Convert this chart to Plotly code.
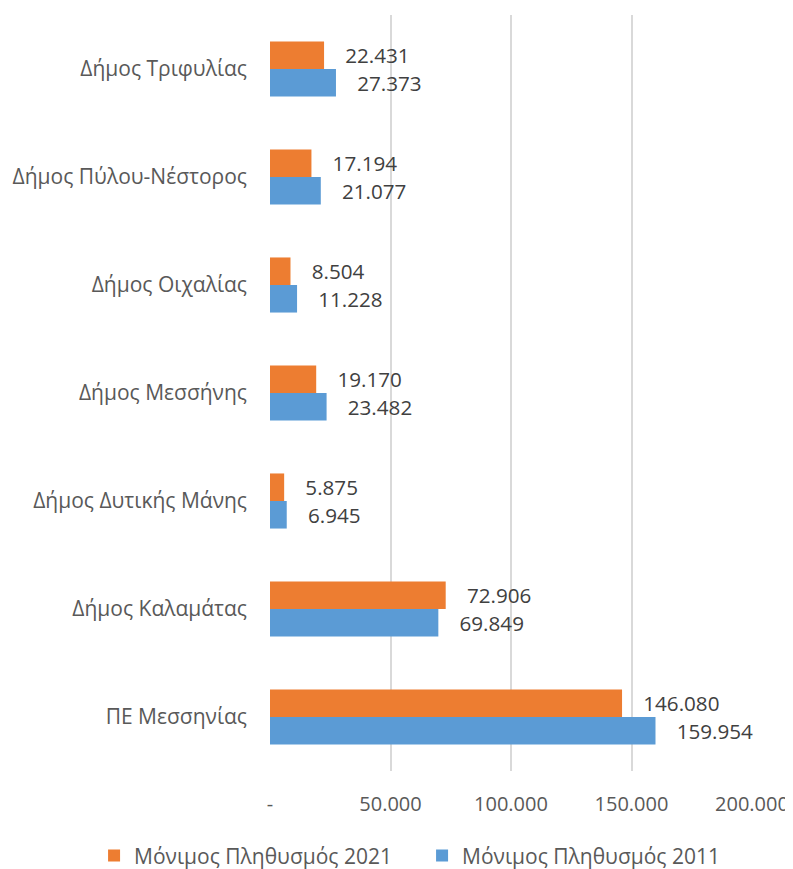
import plotly.graph_objects as go

# categories listed top to bottom as they appear in the chart
categories = [
    "Δήμος Τριφυλίας",
    "Δήμος Πύλου-Νέστορος",
    "Δήμος Οιχαλίας",
    "Δήμος Μεσσήνης",
    "Δήμος Δυτικής Μάνης",
    "Δήμος Καλαμάτας",
    "ΠΕ Μεσσηνίας",
]
pop_2021 = [22431, 17194, 8504, 19170, 5875, 72906, 146080]
pop_2011 = [27373, 21077, 11228, 23482, 6945, 69849, 159954]

tick_vals = [0, 50000, 100000, 150000, 200000]
tick_text = ["-", "50.000", "100.000", "150.000", "200.000"]

FONT = "Open Sans, sans-serif"
SIZE = 21
pad = "\u00a0" * 3 + "\u200a"

fig = go.Figure()
fig.add_trace(go.Bar(
    y=categories, x=pop_2021, orientation="h",
    name="Μόνιμος Πληθυσμός 2021",
    marker=dict(color="#ED7D31", line=dict(width=0)),
    texttemplate=pad + "%{x:,}", textposition="outside",
    textfont=dict(color="#404040", size=SIZE, family=FONT),
    cliponaxis=False,
))
fig.add_trace(go.Bar(
    y=categories, x=pop_2011, orientation="h",
    name="Μόνιμος Πληθυσμός 2011",
    marker=dict(color="#5B9BD5", line=dict(width=0)),
    texttemplate=pad + "%{x:,}", textposition="outside",
    textfont=dict(color="#404040", size=SIZE, family=FONT),
    cliponaxis=False,
))

# the page body adds an 8px margin, so the figure is 8px smaller each way
fig.update_layout(
    width=785, height=861,
    margin=dict(l=262, r=41, t=7, b=98, autoexpand=False),
    paper_bgcolor="white", plot_bgcolor="white",
    font=dict(family=FONT, color="#595959", size=SIZE),
    separators=",.",
    barmode="group", bargap=0.49, bargroupgap=0,
    legend=dict(
        orientation="h", xref="paper", yref="paper",
        x=-0.365, y=-0.1124, xanchor="left", yanchor="middle",
        entrywidth=283, entrywidthmode="pixels",
        bgcolor="rgba(0,0,0,0)",
        font=dict(size=SIZE, color="#595959"),
    ),
)
fig.update_xaxes(
    range=[0, 200000], tickvals=tick_vals, ticktext=tick_text,
    tickfont=dict(size=20),
    showgrid=True, gridcolor="#D9D9D9", gridwidth=1.5,
    zeroline=False, showline=False, ticks="", ticklabelstandoff=19,
    automargin=False,
)
fig.update_yaxes(
    autorange="reversed", showgrid=False, showline=False,
    ticks="", ticklabelstandoff=22, automargin=False,
)

fig.write_html("out.html")
